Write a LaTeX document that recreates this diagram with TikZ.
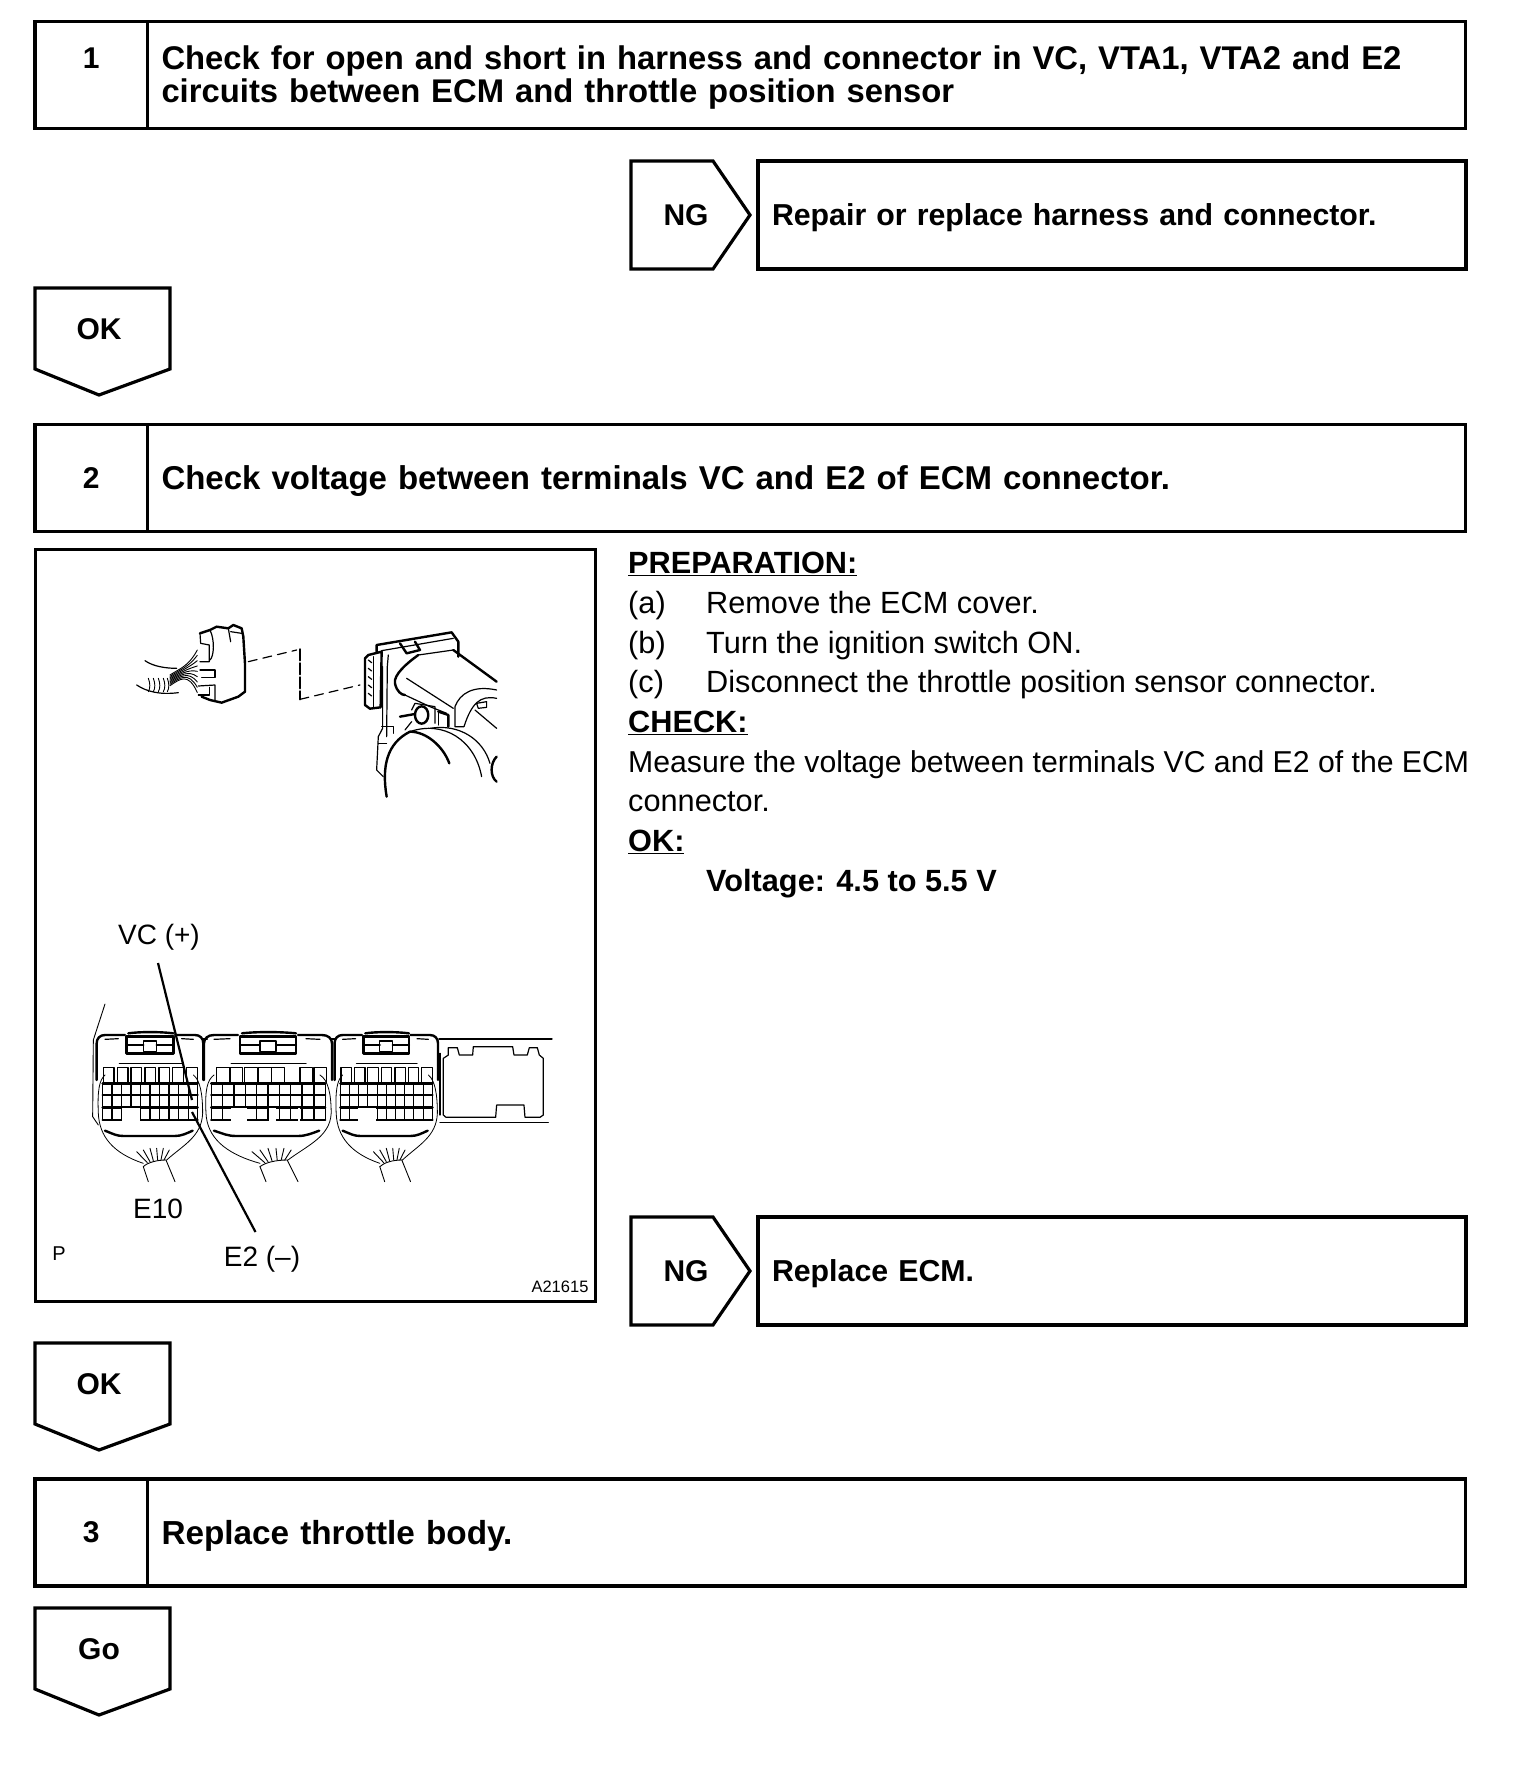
\documentclass[tikz,border=0pt]{standalone}
\usepackage{fontspec}
\setmainfont{Liberation Sans}
\usepackage{tikz}
\usetikzlibrary{positioning}

\begin{document}
\begin{tikzpicture}[
    x=1pt, y=-1pt,
    box/.style={rectangle, draw=black, line width=3.2pt, outer sep=0pt, inner sep=0pt, anchor=north west},
    numbox/.style={box, minimum width=112.5pt, minimum height=107pt, font=\fontsize{30}{33}\selectfont\bfseries},
    stepbox/.style={box, minimum height=107pt, align=left, text width=1290pt, inner xsep=14pt, font=\fontsize{33}{33}\selectfont\bfseries},
    ngbox/.style={box, minimum width=707pt, minimum height=108pt, align=left, text width=680pt, inner xsep=14pt, text depth=0pt, font=\fontsize{30.3}{33}\selectfont\bfseries},
    tag/.style={draw=black, line width=3.2pt, line join=miter},
    taglabel/.style={font=\fontsize{30}{33}\selectfont\bfseries},
    plain/.style={font=\fontsize{28}{30}\selectfont},
    sketch/.style={draw=black, line width=1.2pt, line cap=round, line join=round},
    heavy/.style={sketch, line width=2.4pt},
    pointer/.style={draw=black, line width=2.2pt}
]
\useasboundingbox (0,0) rectangle (1536,1780);

% steps
\node[numbox] (num1) at (35,21.5) {};
\node[taglabel, yshift=17pt] (lab1) at (num1.center) {1};
\node[stepbox, text depth=35.5pt, font=\fontsize{32.8}{33}\selectfont\bfseries, right=0pt of num1] (step1) {Check for open and short in harness and connector in VC, VTA1, VTA2 and E2\\circuits between ECM and throttle position sensor};
\node[numbox] (num2) at (35,424.5) {2};
\node[stepbox, text depth=0pt, right=0pt of num2] (step2) {Check voltage between terminals VC and E2 of ECM connector.};
\node[numbox] (num3) at (35,1479) {3};
\node[stepbox, text depth=0pt, font=\fontsize{33.3}{33}\selectfont\bfseries, right=0pt of num3] (step3) {Replace throttle body.};

% tags
\foreach \ty/\txt/\nm in {288/OK/ok1, 1343/OK/ok2, 1608/Go/go3} {
  \draw[tag] (35,\ty) -- (170,\ty) -- (170,\ty+81) -- (99,\ty+107) -- (35,\ty+81) -- cycle;
  \node[taglabel] (\nm) at (99,\ty+41) {\txt};
}
\foreach \ty/\nm in {161/ng1, 1217/ng2} {
  \draw[tag] (631,\ty) -- (713,\ty) -- (750,\ty+54) -- (713,\ty+108) -- (631,\ty+108) -- cycle;
  \node[taglabel] (\nm) at (686,\ty+54) {NG};
}
\node[ngbox] (fix1) at (758,161) {Repair or replace harness and connector.};
\node[ngbox] (fix2) at (758,1217) {Replace ECM.};

% instructions
\node[anchor=north west, inner sep=0pt, align=left, font=\fontsize{30.7}{39.7}\selectfont] (prep) at (628,552) {%
\underline{\textbf{PREPARATION:}}\\
\makebox[78pt][l]{(a)}Remove the ECM cover.\\
\makebox[78pt][l]{(b)}Turn the ignition switch ON.\\
\makebox[78pt][l]{(c)}Disconnect the throttle position sensor connector.\\
\underline{\textbf{CHECK:}}\\
{\fontsize{30.2}{39.7}\selectfont Measure the voltage between terminals VC and E2 of the ECM}\\
connector.\\
\underline{\textbf{OK:}}\\
\hspace*{78pt}\textbf{Voltage: 4.5 to 5.5 V}};

% picture frame
\node[box, minimum width=560pt, minimum height=752pt, line width=3pt] (frame) at (35,549) {};
\node[plain] (vc) at (159,937.5) {VC (+)};
\node[plain] (e10) at (158,1209) {E10};
\node[plain] (e2) at (262,1259) {E2 (--)};
\node[font=\fontsize{20}{22}\selectfont] (pmark) at (59,1254) {P};
\node[font=\fontsize{16.5}{18}\selectfont] (code) at (560,1287) {A21615};

% harness plug and throttle body
\begin{scope}[shift={(110,600)}, x=0.3333pt, y=-0.3333pt]
\draw[heavy] (270,100) -- (300,90) -- (320,80) -- (355,85) -- (370,75) -- (395,85) -- (400,110) -- (405,190) -- (405,275) -- (385,290) -- (335,308) -- (300,300) -- (275,290);
\draw[sketch] (300,90) .. controls (315,120) and (312,170) .. (300,180);
\draw[sketch] (355,85) -- (362,125);
\draw[sketch] (362,95) -- (395,100);
\draw[sketch] (270,100) -- (272,130) -- (298,135) -- (298,185) -- (270,185);
\draw[sketch] (270,210) -- (315,210) -- (315,232) -- (275,232);
\draw[sketch] (265,258) -- (315,255) -- (315,300);
\draw[sketch] (265,285) -- (298,285) -- (298,262);
\draw[sketch] (105,182) .. controls (130,200) and (170,205) .. (200,205);
\draw[sketch] (80,255) .. controls (110,275) and (150,285) .. (205,278);
\foreach \wy in {0,4,...,32} {
  \draw[sketch, line width=0.9pt] (180,225+\wy) .. controls (210,205+\wy) and (235,200+\wy/2) .. (262,150+\wy*4);
}
\foreach \wx in {115,130,145,160,172} {
  \draw[sketch, line width=0.9pt] (\wx,235) .. controls (\wx+6,250) and (\wx+6,265) .. (\wx,275);
}
% dashed link
\draw[sketch, dash pattern=on 9pt off 6pt] (415,185) -- (560,150);
\draw[heavy, dash pattern=on 11pt off 3pt] (570,148) -- (570,298);
\draw[sketch, dash pattern=on 9pt off 6pt] (570,298) -- (750,255);
% throttle body
\draw[heavy] (800,155) -- (800,135) -- (1025,97) -- (1045,125) -- (1045,170);
\draw[sketch] (815,152) -- (1030,115);
\draw[heavy] (870,130) -- (890,160) -- (930,150) -- (915,125);
\draw[heavy] (775,165) -- (815,155) -- (812,322) -- (780,326) -- (765,315) -- (765,175) -- cycle;
\foreach \py in {180,205,230,255,280} {
  \draw[sketch] (775,\py) -- (785,\py+8);
}
\draw[sketch] (790,170) -- (790,320);
\draw[sketch] (835,165) -- (832,200) -- (830,410);
\draw[sketch] (818,200) -- (818,385) -- (805,410) -- (800,510) -- (820,530);
\draw[sketch] (805,430) -- (830,430);
\draw[sketch] (815,380) -- (850,380) -- (850,400);
\draw[heavy] (1030,150) -- (1160,245);
\draw[sketch] (925,165) -- (1030,150);
\draw[heavy] (925,165) .. controls (890,190) and (850,225) .. (855,250) .. controls (860,275) and (875,285) .. (885,285);
\draw[sketch] (890,235) -- (1030,325);
\draw[sketch] (885,285) -- (960,320) -- (1010,340);
\draw[sketch] (1160,270) .. controls (1090,255) and (1050,280) .. (1035,320) -- (1035,380) -- (1062,380);
\draw[sketch] (1160,295) .. controls (1110,285) and (1085,310) .. (1062,380);
\draw[sketch] (1095,330) -- (1160,385);
\draw[sketch] (1100,310) -- (1130,305) -- (1130,322) -- (1105,325) -- cycle;
\draw[heavy] (935,345) ellipse [x radius=20, y radius=26];
\draw[sketch] (905,330) -- (915,310) -- (975,320) -- (975,370);
\draw[heavy] (870,350) -- (915,342);
\draw[sketch] (885,390) -- (905,365);
\draw[heavy] (985,335) -- (1015,345) -- (1015,380);
\draw[sketch] (985,335) -- (985,375);
\draw[heavy] (830,590) .. controls (815,500) and (830,430) .. (900,395) .. controls (950,395) and (1000,440) .. (1018,490);
\draw[sketch] (900,395) .. controls (1000,360) and (1095,420) .. (1115,530);
\draw[sketch] (960,385) .. controls (1050,370) and (1120,420) .. (1140,490);
\draw[heavy] (1160,470) .. controls (1140,490) and (1140,530) .. (1160,545);
\end{scope}

% ECM plugs
\foreach \px/\sc/\cells/\gapa/\gapb/\gapc/\gapd in {
  60/1/{130,172,213,255,297,338,380}/185/242/0/0,
  160/1.2/{142,175,211,246,279,350,385}/175/220/270/292,
  299/0.97/{130,172,213,255,297,338,380}/182/241/0/0} {
\begin{scope}[shift={(\px,980)}, x=0.3333pt, y=-0.3333pt, xscale=\sc]
\draw[heavy] (110,300) -- (110,190) .. controls (110,175) and (120,165) .. (135,165) -- (195,165);
\draw[heavy] (345,165) -- (405,165) .. controls (420,165) and (430,175) .. (430,190) -- (430,300);
\draw[heavy] (200,220) -- (200,170) -- (340,170) -- (340,220) -- cycle;
\draw[heavy] (205,160) .. controls (240,155) and (300,155) .. (340,160);
\draw[heavy] (200,195) -- (250,195);
\draw[heavy] (290,195) -- (340,195);
\draw[sketch] (250,183) rectangle (290,215);
\draw[sketch] (178,250) -- (365,250);
\draw[sketch] (135,178) -- (175,176);
\draw[sketch] (365,176) -- (400,178);
\foreach \cx in \cells {
  \draw[sketch] (\cx,308) -- (\cx,263) -- (\cx+32,263) -- (\cx+32,308);
}
\draw[heavy] (128,310) -- (413,310);
\draw[heavy] (128,345) -- (413,345);
\draw[heavy] (128,382) -- (413,382);
\draw[heavy] (128,420) -- (413,420);
\foreach \vx in {128,156,185,213,242,270,298,327,355,385,413} {
  \draw[sketch] (\vx,310) -- (\vx,420);
}
\fill[white] (\gapa+2,384) rectangle (\gapb-2,424);
\fill[white] (\gapc+2,384) rectangle (\gapd-2,424);
\draw[sketch, line width=0.8pt] (135,285) .. controls (118,300) and (112,330) .. (115,400) .. controls (118,470) and (160,520) .. (250,550);
\draw[sketch, line width=0.8pt] (400,285) .. controls (420,300) and (428,340) .. (428,400) .. controls (425,470) and (370,495) .. (320,540);
\draw[heavy] (135,452) .. controls (160,462) and (170,468) .. (190,468) -- (345,468) .. controls (365,468) and (380,460) .. (398,452);
\draw[sketch, line width=0.9pt] (230,515) -- (262,548);
\draw[sketch, line width=0.9pt] (250,510) -- (270,545);
\draw[sketch, line width=0.9pt] (270,505) -- (280,542);
\draw[sketch, line width=0.9pt] (290,505) -- (293,540);
\draw[sketch, line width=0.9pt] (310,505) -- (303,540);
\draw[sketch, line width=0.9pt] (328,510) -- (312,540);
\draw[sketch, line width=0.9pt] (250,560) .. controls (262,548) and (290,540) .. (318,540);
\draw[sketch, line width=0.9pt] (250,560) -- (265,605);
\draw[sketch, line width=0.9pt] (318,540) -- (345,605);
\end{scope}
}
\begin{scope}[shift={(60,980)}, x=0.3333pt, y=-0.3333pt]
\draw[sketch, line width=0.9pt] (135,72) -- (100,180) -- (98,410) -- (115,435);
\end{scope}

% case and blank cover
\begin{scope}[shift={(320,1000)}, x=0.3333pt, y=-0.3333pt]
\draw[heavy] (358,117) -- (695,117);
\draw[sketch] (360,368) -- (685,368);
\draw[sketch] (360,160) -- (360,345);
\draw[sketch] (370,175) -- (385,165) -- (385,143) -- (412,143) -- (418,165) -- (458,165) -- (460,140) -- (578,140) -- (582,165) -- (622,165) -- (628,143) -- (652,143) -- (658,165) -- (670,175) -- (670,345) -- (660,352) -- (615,352) -- (612,315) -- (530,315) -- (527,352) -- (378,352) -- (370,345) -- cycle;
\end{scope}
\draw[heavy] (203,1039) -- (207,1039);
\draw[heavy] (331,1039) -- (335,1039);

% pointers
\coordinate (vctip) at (192,1100);
\coordinate (e2tip) at (192,1112);
\coordinate (vcend) at (158,963);
\coordinate (e2end) at (255.5,1232);
\draw[pointer] (vcend) -- (vctip);
\draw[pointer] (e2end) -- (e2tip);
\end{tikzpicture}
\end{document}
